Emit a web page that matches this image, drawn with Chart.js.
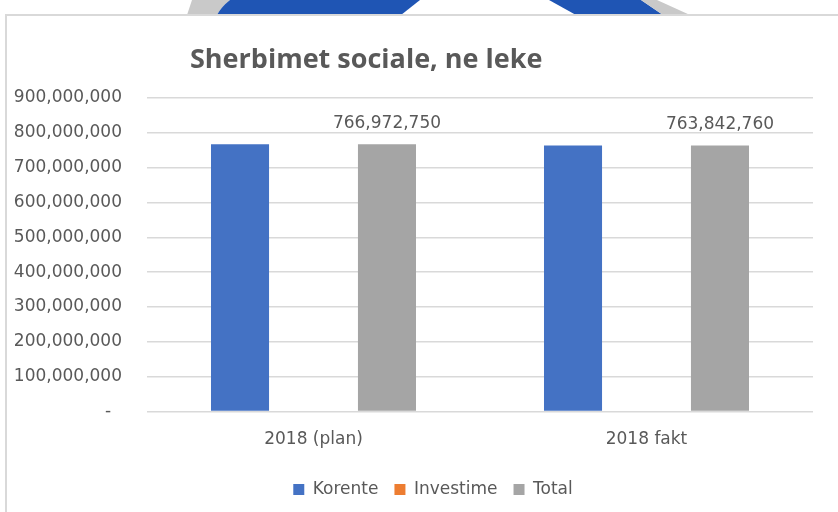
<!DOCTYPE html>
<html>
<head>
<meta charset="utf-8">
<script src="https://cdn.jsdelivr.net/npm/chart.js@4.4.1/dist/chart.umd.min.js"></script>
<style>
  html, body { margin: 0; padding: 0; background: #fff; }
  #wrap { position: relative; width: 838px; height: 512px; overflow: hidden; }
  #deco { position: absolute; left: 0; top: 0; }
  #box {
    position: absolute; left: 5px; top: 14px; width: 840px; height: 510px;
    border-top: 2px solid #d9d9d9; border-left: 2px solid #d9d9d9; background: #fff;
  }
  #chart { position: absolute; left: 0; top: 0; }
</style>
</head>
<body>
<div id="wrap">
  <!-- piece of the logo peeking over the chart frame -->
  <svg id="deco" width="838" height="15">
    <path d="M192,0 L230,0 Q221,7 217,15 L187,15 Z" fill="#c9c9c9"/>
    <path d="M230,0 L420,0 L401,15 L217,15 Q221,7 230,0 Z" fill="#1f55b4"/>
    <polygon points="549,0 641,0 663,15 576,15" fill="#1f55b4"/>
    <polygon points="641,0 657,0 690,15 663,15" fill="#c9c9c9"/>
  </svg>
  <div id="box"></div>
  <canvas id="chart" width="838" height="512"></canvas>
</div>
<script>
const categories = ["2018 (plan)", "2018 fakt"];
const korente = [766972750, 763842760];
const investime = [0, 0];
const total = [766972750, 763842760];
const yMax = 900000000;
const yStep = 100000000;
const chartTitle = "Sherbimet sociale, ne leke";

const textColor = "#595959";
const fontFamily = "'DejaVu Sans', sans-serif";

// title is drawn left of centre like in the Excel original
const titlePlugin = {
  id: "leftTitle",
  afterDraw(chart) {
    const ctx = chart.ctx;
    ctx.save();
    ctx.font = "bold 27px 'Open Sans', sans-serif";
    ctx.fillStyle = textColor;
    ctx.textAlign = "left";
    ctx.textBaseline = "alphabetic";
    ctx.fillText(chartTitle, 190, 68);
    ctx.restore();
  }
};

// value labels on the Total bars only
const totalLabels = {
  id: "totalLabels",
  afterDatasetsDraw(chart) {
    const ctx = chart.ctx;
    const meta = chart.getDatasetMeta(2);
    ctx.save();
    ctx.font = "17px " + fontFamily;
    ctx.fillStyle = textColor;
    ctx.textAlign = "center";
    ctx.textBaseline = "middle";
    meta.data.forEach((bar, i) => {
      ctx.fillText(total[i].toLocaleString("en-US"), bar.x, bar.y - 21);
    });
    ctx.restore();
  }
};

// the legend in the original sits a bit right of the canvas centre
const legendShift = {
  id: "legendShift",
  afterLayout(chart) {
    if (chart.legend) chart.legend.left += 53;
  }
};

new Chart(document.getElementById("chart"), {
  type: "bar",
  data: {
    labels: categories,
    datasets: [
      { label: "Korente", data: korente, backgroundColor: "#4472c4" },
      { label: "Investime", data: investime, backgroundColor: "#ed7d31" },
      { label: "Total", data: total, backgroundColor: "#a5a5a5" }
    ]
  },
  options: {
    responsive: false,
    animation: false,
    categoryPercentage: 0.662,
    barPercentage: 0.79,
    layout: { padding: { left: 0, right: 25, top: 98, bottom: 4 } },
    plugins: {
      title: { display: false },
      tooltip: { enabled: false },
      legend: {
        position: "bottom",
        labels: {
          boxWidth: 11,
          boxHeight: 11,
          padding: 16,
          color: textColor,
          font: { family: fontFamily, size: 17 }
        }
      }
    },
    scales: {
      x: {
        afterFit(scale) { scale.height += 5; },
        grid: { display: false },
        border: { display: false },
        ticks: { color: textColor, padding: 10, font: { family: fontFamily, size: 17 } }
      },
      y: {
        min: 0,
        max: yMax,
        afterFit(scale) { scale.width = 147; },
        grid: { color: "#d9d9d9", lineWidth: 1.5, drawTicks: false },
        border: { display: false },
        ticks: {
          stepSize: yStep,
          padding: 25,
          color: textColor,
          font: { family: fontFamily, size: 17 },
          callback: v => v === 0 ? "-  " : v.toLocaleString("en-US")
        }
      }
    }
  },
  plugins: [titlePlugin, totalLabels, legendShift]
});
</script>
</body>
</html>
